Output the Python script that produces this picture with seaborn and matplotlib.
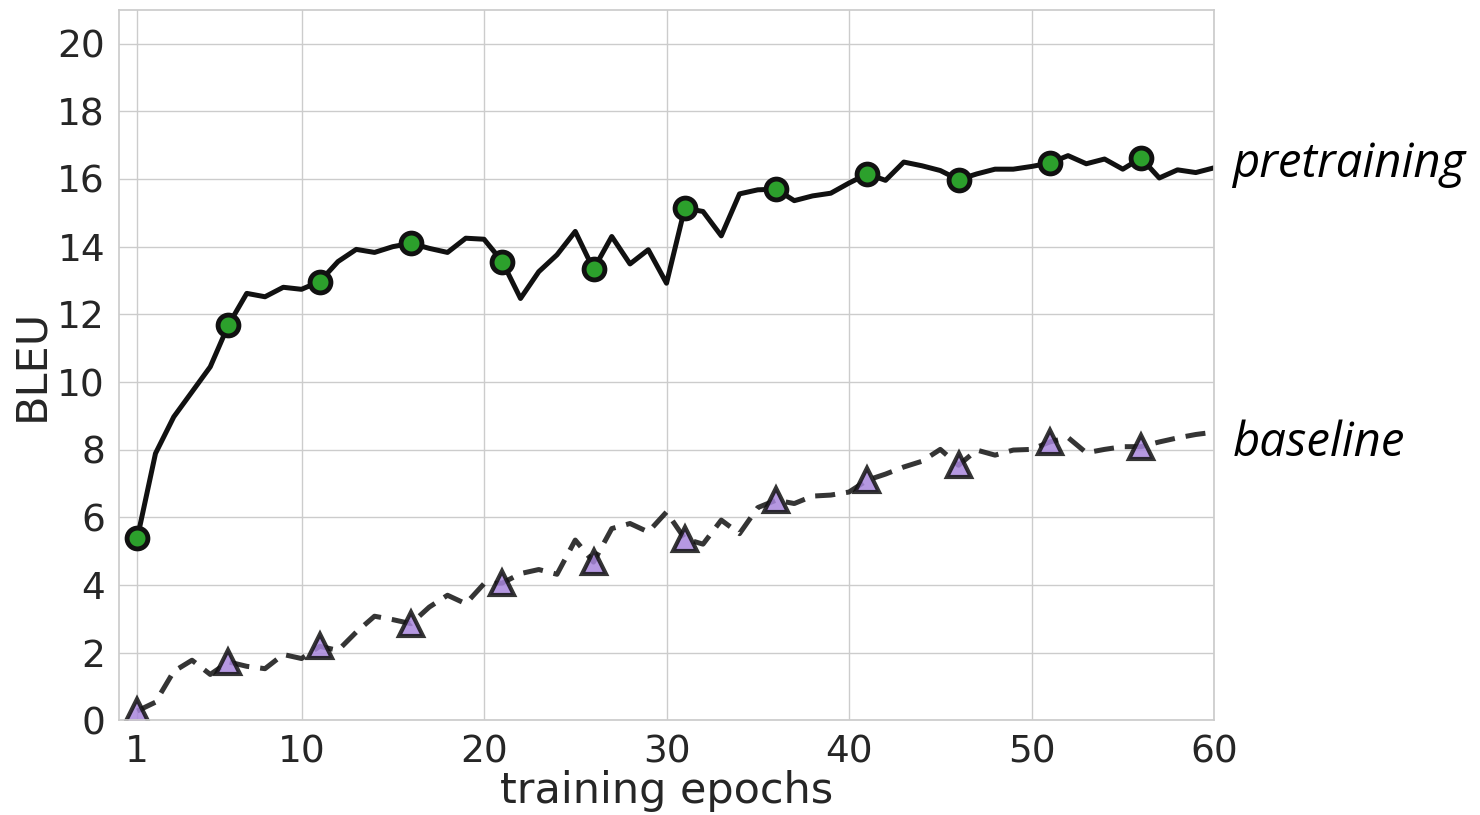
import pandas as pd
import matplotlib
matplotlib.use('Agg')
import matplotlib.pyplot as plt
import seaborn as sns

# ==============================================================================
# DATOS
# ==============================================================================
epochs = list(range(1, 61))

bleu_pretraining = [
    5.38, 7.89, 8.97, 9.71, 10.45, 11.69, 12.62, 12.52, 12.80, 12.74,
    12.97, 13.56, 13.92, 13.83, 14.00, 14.10, 13.95, 13.83, 14.25, 14.22,
    13.56, 12.47, 13.26, 13.76, 14.45, 13.33, 14.30, 13.49, 13.91, 12.92,
    15.14, 15.04, 14.32, 15.56, 15.68, 15.70, 15.36, 15.50, 15.58, 15.88,
    16.15, 15.96, 16.50, 16.39, 16.25, 15.98, 16.15, 16.29, 16.29, 16.37,
    16.47, 16.69, 16.45, 16.59, 16.29, 16.62, 16.03, 16.27, 16.19, 16.33,
]

bleu_baseline = [
    0.28, 0.54, 1.45, 1.78, 1.36, 1.73, 1.60, 1.53, 1.95, 1.83,
    2.19, 2.07, 2.61, 3.08, 2.98, 2.86, 3.35, 3.70, 3.45, 4.04,
    4.06, 4.34, 4.46, 4.32, 5.33, 4.68, 5.67, 5.82, 5.57, 6.16,
    5.37, 5.21, 5.92, 5.52, 6.29, 6.51, 6.41, 6.63, 6.66, 6.75,
    7.10, 7.28, 7.49, 7.66, 8.01, 7.54, 7.99, 7.84, 7.99, 8.01,
    8.23, 8.36, 7.91, 8.01, 8.09, 8.09, 8.23, 8.35, 8.45, 8.52,
]

serie_labels = ['pretraining', 'baseline']

# ==============================================================================
# ESTILO
# ==============================================================================
sns.set_theme(style="whitegrid")
plt.rcParams['font.family'] = ['DejaVu Sans']
COLOR_TEXT = '#262626'

df = pd.DataFrame({'epoch': epochs,
                   'pretraining': bleu_pretraining,
                   'baseline': bleu_baseline})

fig, ax = plt.subplots(figsize=(14.8, 8.15), dpi=100)

sns.lineplot(data=df, x='epoch', y='pretraining', ax=ax,
             color='#111111', linewidth=3.6,
             marker='o', markevery=5, markersize=15,
             markerfacecolor='#2ca02c', markeredgecolor='#111111',
             markeredgewidth=3.5)

sns.lineplot(data=df, x='epoch', y='baseline', ax=ax,
             color='#111111', alpha=0.85, linewidth=3.6,
             linestyle=(0, (4.0, 2.2)),
             marker='^', markevery=5, markersize=17,
             markerfacecolor='#a886dc', markeredgecolor='#111111',
             markeredgewidth=3.0)

ax.set_xlim(0, 60)
ax.set_ylim(0, 21)
ax.set_xticks([1, 10, 20, 30, 40, 50, 60])
ax.set_yticks(range(0, 21, 2))
ax.tick_params(axis='both', labelsize=27, colors=COLOR_TEXT, pad=4)
ax.set_xlabel('training epochs', fontsize=31, color=COLOR_TEXT, labelpad=0)
ax.set_ylabel('BLEU', fontsize=31, color=COLOR_TEXT, labelpad=4)

# Etiquetas de serie al final de las curvas
ax.text(61.0, 16.45, serie_labels[0], fontsize=34, style='italic',
        family='Open Sans', color='black', va='center', ha='left', clip_on=False)
ax.text(61.0, 8.2, serie_labels[1], fontsize=34, style='italic',
        family='Open Sans', color='black', va='center', ha='left', clip_on=False)

for s in ax.spines.values():
    s.set_color('#cccccc')

plt.subplots_adjust(left=0.0804, right=0.8203, top=0.988, bottom=0.116)
plt.savefig('out.png', dpi=100)
plt.close()
